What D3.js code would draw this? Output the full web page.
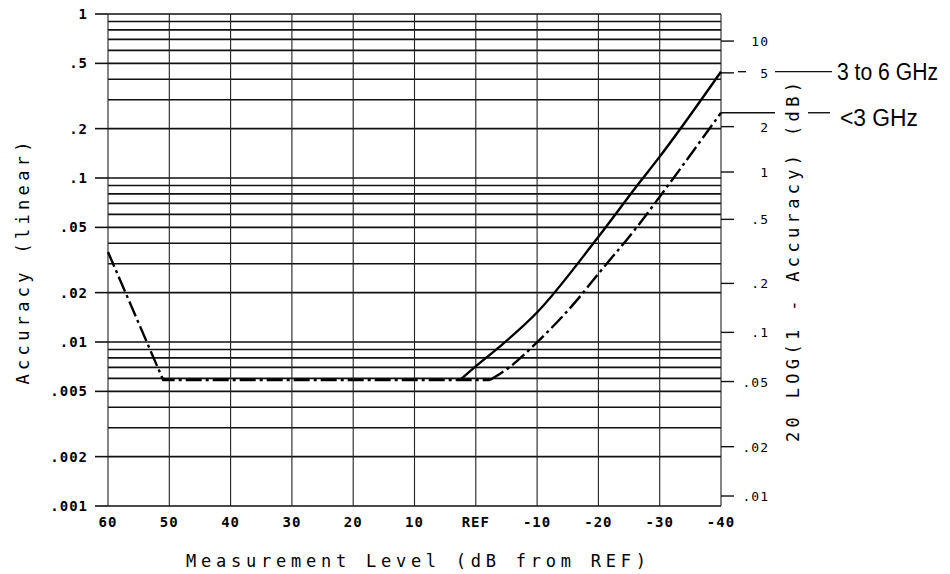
<!DOCTYPE html>
<html>
<head>
<meta charset="utf-8">
<script src="https://cdn.jsdelivr.net/npm/d3@7/dist/d3.min.js"></script>
<style>
  html, body { margin: 0; padding: 0; background: #fff; }
  svg { display: block; }
  .plot { font-family: "DejaVu Sans Mono", monospace; }
</style>
</head>
<body>
<svg id="chart" width="950" height="574"></svg>
<script>
// ---- data ----
const xTicks = [60, 50, 40, 30, 20, 10, 0, -10, -20, -30, -40];
const xTickLabels = ["60", "50", "40", "30", "20", "10", "REF", "-10", "-20", "-30", "-40"];
const yTicks = [1, 0.5, 0.2, 0.1, 0.05, 0.02, 0.01, 0.005, 0.002, 0.001];
const yTickLabels = ["1", ".5", ".2", ".1", ".05", ".02", ".01", ".005", ".002", ".001"];
const dbTicks = [10, 5, 2, 1, 0.5, 0.2, 0.1, 0.05, 0.02, 0.01];
const dbTickLabels = ["10", "5", "2", "1", ".5", ".2", ".1", ".05", ".02", ".01"];
// curve < 3 GHz (dash-dot), includes shared low-level segment
const lowLevels = [60, 51, -2.3, -5.6, -10.1, -16.5, -19.6, -26.8, -30, -40];
const lowValues = [0.0354, 0.00586, 0.00586, 0.00707, 0.01005, 0.018, 0.025, 0.0532, 0.0769, 0.25];
// curve 3 to 6 GHz (solid)
const highLevels = [2.6, 0.4, -3.9, -10.1, -19.6, -26.8, -29.6, -40];
const highValues = [0.00586, 0.00691, 0.00936, 0.0153, 0.0419, 0.0949, 0.129, 0.445];
const seriesNames = ["3 to 6 GHz", "<3 GHz"];

// ---- layout ----
const svg = d3.select("#chart");
const L = 108, R = 721, T = 14, B = 506;
const x = d3.scaleLinear().domain([60, -40]).range([L, R]);
const y = d3.scaleLog().domain([0.001, 1]).range([B, T]);
const dbToAcc = d => 1 - Math.pow(10, -d / 20);

const g = svg.append("g").attr("class", "plot");

// horizontal grid: 1..9 x decade
const hGrid = [];
[0.001, 0.01, 0.1].forEach(dec => { for (let k = 1; k <= 9; k++) hGrid.push(dec * k); });
hGrid.push(1);
g.selectAll("line.hg").data(hGrid).enter().append("line")
  .attr("x1", L).attr("x2", R)
  .attr("y1", d => y(d)).attr("y2", d => y(d))
  .attr("stroke", "#111").attr("stroke-width", 1.6);

// vertical grid
g.selectAll("line.vg").data(xTicks).enter().append("line")
  .attr("x1", d => x(d)).attr("x2", d => x(d))
  .attr("y1", T).attr("y2", B)
  .attr("stroke", "#222").attr("stroke-width", 1.1);

// left ticks
g.selectAll("line.lt").data(yTicks).enter().append("line")
  .attr("x1", L - 13).attr("x2", L)
  .attr("y1", d => y(d)).attr("y2", d => y(d))
  .attr("stroke", "#111").attr("stroke-width", 1.6);
g.selectAll("text.ll").data(yTicks).enter().append("text")
  .attr("x", 88).attr("y", d => y(d) + 5)
  .attr("text-anchor", "end")
  .attr("font-size", 14).attr("font-weight", "bold")
  .attr("letter-spacing", 1)
  .text((d, i) => yTickLabels[i]);

// bottom labels
g.selectAll("text.bl").data(xTicks).enter().append("text")
  .attr("x", d => x(d)).attr("y", B + 21)
  .attr("text-anchor", "middle")
  .attr("font-size", 14).attr("font-weight", "bold")
  .attr("letter-spacing", 1)
  .text((d, i) => xTickLabels[i]);

// right ticks
g.selectAll("line.rt").data(dbTicks).enter().append("line")
  .attr("x1", R).attr("x2", R + 13)
  .attr("y1", d => y(dbToAcc(d))).attr("y2", d => y(dbToAcc(d)))
  .attr("stroke", "#111").attr("stroke-width", 1.4);
g.selectAll("text.rl").data(dbTicks).enter().append("text")
  .attr("x", 769).attr("y", d => y(dbToAcc(d)) + 5)
  .attr("text-anchor", "end")
  .attr("font-size", 13)
  .attr("letter-spacing", 1)
  .text((d, i) => dbTickLabels[i]);

// curves
const lineLin = d3.line().x(d => x(d[0])).y(d => y(d[1]));
const lineSmooth = d3.line().x(d => x(d[0])).y(d => y(d[1])).curve(d3.curveMonotoneX);
const lowData = lowLevels.map((v, i) => [v, lowValues[i]]);
const highData = highLevels.map((v, i) => [v, highValues[i]]);
g.append("path").datum(lowData.slice(0, 3)).attr("d", lineLin)
  .attr("fill", "none").attr("stroke", "#000").attr("stroke-width", 2.4)
  .attr("stroke-dasharray", "16,4,3,4");
g.append("path").datum(lowData.slice(2)).attr("d", lineSmooth)
  .attr("fill", "none").attr("stroke", "#000").attr("stroke-width", 2.4)
  .attr("stroke-dasharray", "16,4,3,4");
g.append("path").datum(highData).attr("d", lineSmooth)
  .attr("fill", "none").attr("stroke", "#000").attr("stroke-width", 2.4);

// legend connectors
const yHigh = y(highValues[highValues.length - 1]);
const yLow = y(lowValues[lowValues.length - 1]);
const seg = (x1, x2, yy) => g.append("line").attr("x1", x1).attr("x2", x2)
  .attr("y1", yy).attr("y2", yy).attr("stroke", "#111").attr("stroke-width", 1.4);
seg(738, 746, yHigh);
seg(775, 832, yHigh);
seg(R, 775, yLow);
seg(808, 830, yLow);

svg.append("text").attr("x", 837).attr("y", yHigh + 8)
  .attr("font-family", "'Liberation Sans', Arial, sans-serif")
  .attr("font-size", 23).attr("textLength", 101).attr("lengthAdjust", "spacingAndGlyphs")
  .text(seriesNames[0]);
svg.append("text").attr("x", 840).attr("y", yLow + 13)
  .attr("font-family", "'Liberation Sans', Arial, sans-serif")
  .attr("font-size", 23).attr("textLength", 78).attr("lengthAdjust", "spacingAndGlyphs")
  .text(seriesNames[1]);

// axis titles
g.append("text")
  .attr("transform", "translate(29,263) rotate(-90)")
  .attr("text-anchor", "middle").attr("font-size", 17)
  .attr("textLength", 243).attr("lengthAdjust", "spacing")
  .text("Accuracy (linear)");
g.append("text")
  .attr("transform", "translate(799,262) rotate(-90)")
  .attr("text-anchor", "middle").attr("font-size", 17)
  .attr("textLength", 360).attr("lengthAdjust", "spacing")
  .text("20 LOG(1 - Accuracy) (dB)");
g.append("text")
  .attr("x", 416).attr("y", 567)
  .attr("text-anchor", "middle").attr("font-size", 17)
  .attr("textLength", 460).attr("lengthAdjust", "spacing")
  .text("Measurement Level (dB from REF)");
</script>
</body>
</html>
